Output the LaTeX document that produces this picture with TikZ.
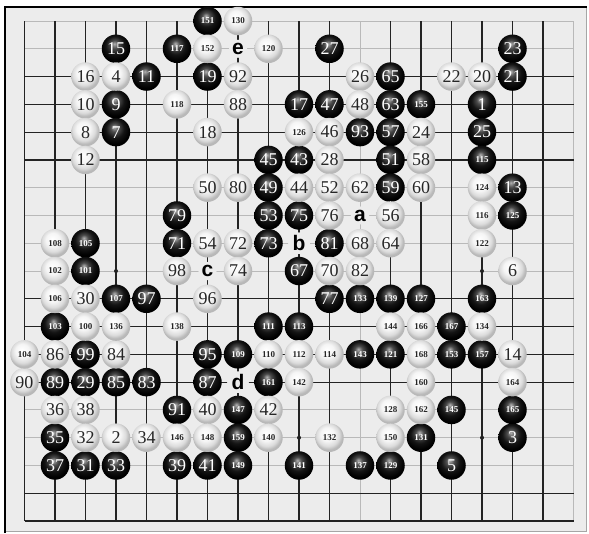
\documentclass[tikz,border=0pt]{standalone}
\usepackage{fontspec}
\setmainfont{Liberation Serif}
\newfontfamily\letterfont{Liberation Sans}

\definecolor{boardbg}{RGB}{236,236,236}
\definecolor{gridlight}{RGB}{185,185,185}
\definecolor{griddark}{RGB}{35,35,35}

% stone shadings
\pgfdeclareradialshading{bstoneshade}{\pgfqpoint{-3bp}{9bp}}{%
  color(0bp)=(black!30); color(7bp)=(black!70); color(16bp)=(black!92);
  color(25bp)=(black); color(50bp)=(black)}
\pgfdeclareradialshading{wstoneshade}{\pgfqpoint{-5bp}{8bp}}{%
  color(0bp)=(white); color(12bp)=(white!96!black); color(20bp)=(white!86!black);
  color(25bp)=(white!72!black); color(50bp)=(white!72!black)}

\tikzset{
  stone/.style={circle, minimum size=28.5pt, inner sep=0pt},
  bstone/.style={stone, shading=bstoneshade, text=white, font=\fontsize{18}{18}\selectfont},
  wstone/.style={stone, shading=wstoneshade, text=black!85, font=\fontsize{18}{18}\selectfont},
  threedigit/.style={font=\bfseries\fontsize{9}{9}\selectfont},
  letterlabel/.style={circle, fill=boardbg, inner sep=0.6pt, font=\letterfont\bfseries\fontsize{21}{21}\selectfont},
  hoshi/.style={circle, fill=griddark, inner sep=0pt, minimum size=4pt}
}

\begin{document}
\begin{tikzpicture}[x=1pt, y=-1pt]
\useasboundingbox (0,0) rectangle (589,533);

% Frame
\fill[white] (0,0) rectangle (589,533);
\fill[boardbg] (5,7) rectangle (586,531);
\draw[gray!70, line width=1pt] (586,7) -- (586,531) -- (5,531);
\draw[black, line width=1.6pt] (5,533) -- (5,7) -- (587,7);

\begin{scope}[shift={(24.5pt,-21pt)}, x=30.5pt, y=-27.78pt]

% Grid
\foreach \i in {0,...,18} {
  \draw[gridlight, line width=0.9pt] (\i,0) -- (\i,18);
  \draw[gridlight, line width=0.9pt] (0,\i) -- (18,\i);
}
\foreach \i in {0,...,10,12,13,14,15,16,17}
  \draw[griddark, line width=1.2pt] (\i,0) -- (\i,18);
\foreach \i in {2,3,4,5,10,11,12,13,17,18}
  \draw[griddark, line width=1.2pt] (0,\i) -- (18,\i);

% Star points
\foreach \c/\r in {3/9, 15/9, 9/15, 15/15}
  \node[hoshi] (h\c-\r) at (\c,\r) {};

% Black stones
\foreach \c/\r/\n in {3/1/15, 10/1/27, 16/1/23, 4/2/11, 6/2/19, 12/2/65, 16/2/21,
    3/3/9, 9/3/17, 10/3/47, 12/3/63, 15/3/1, 3/4/7, 11/4/93, 12/4/57, 15/4/25,
    8/5/45, 9/5/43, 12/5/51, 8/6/49, 12/6/59, 16/6/13, 5/7/79, 8/7/53, 9/7/75,
    5/8/71, 8/8/73, 10/8/81, 9/9/67, 4/10/97, 10/10/77, 2/12/99, 6/12/95,
    1/13/89, 2/13/29, 3/13/85, 4/13/83, 6/13/87, 5/14/91, 1/15/35, 16/15/3,
    1/16/37, 2/16/31, 3/16/33, 5/16/39, 6/16/41, 14/16/5}
  \node[bstone] (b\n) at (\c,\r) {\n};
\foreach \c/\r/\n in {6/0/151, 5/1/117, 13/3/155, 15/5/115, 16/7/125, 2/8/105,
    2/9/101, 3/10/107, 11/10/133, 12/10/139, 13/10/127, 15/10/163, 1/11/103,
    8/11/111, 9/11/113, 14/11/167, 7/12/109, 11/12/143, 12/12/121, 14/12/153,
    15/12/157, 8/13/161, 7/14/147, 14/14/145, 16/14/165, 7/15/159, 13/15/131,
    7/16/149, 9/16/141, 11/16/137, 12/16/129}
  \node[bstone, threedigit] (b\n) at (\c,\r) {\n};

% White stones
\foreach \c/\r/\n in {2/2/16, 3/2/4, 7/2/92, 11/2/26, 14/2/22, 15/2/20, 2/3/10,
    7/3/88, 11/3/48, 2/4/8, 6/4/18, 10/4/46, 13/4/24, 2/5/12, 10/5/28, 13/5/58,
    6/6/50, 7/6/80, 9/6/44, 10/6/52, 11/6/62, 13/6/60, 10/7/76, 12/7/56,
    6/8/54, 7/8/72, 11/8/68, 12/8/64, 5/9/98, 7/9/74, 10/9/70, 11/9/82, 16/9/6,
    2/10/30, 6/10/96, 1/12/86, 3/12/84, 16/12/14, 0/13/90, 1/14/36, 2/14/38,
    6/14/40, 8/14/42, 2/15/32, 3/15/2, 4/15/34}
  \node[wstone] (w\n) at (\c,\r) {\n};
\foreach \c/\r/\n in {7/0/130, 6/1/152, 8/1/120, 5/3/118, 9/4/126, 15/6/124,
    15/7/116, 1/8/108, 15/8/122, 1/9/102, 1/10/106, 2/11/100, 3/11/136,
    5/11/138, 12/11/144, 13/11/166, 15/11/134, 0/12/104, 8/12/110, 9/12/112,
    10/12/114, 13/12/168, 9/13/142, 13/13/160, 16/13/164, 12/14/128,
    13/14/162, 5/15/146, 6/15/148, 8/15/140, 10/15/132, 12/15/150}
  \node[wstone, threedigit] (w\n) at (\c,\r) {\n};

% Lettered points
\foreach \c/\r/\l in {7/1/e, 11/7/a, 9/8/b, 6/9/c, 7/13/d}
  \node[letterlabel] (pt\l) at (\c,\r) {\l};

\end{scope}
\end{tikzpicture}
\end{document}
